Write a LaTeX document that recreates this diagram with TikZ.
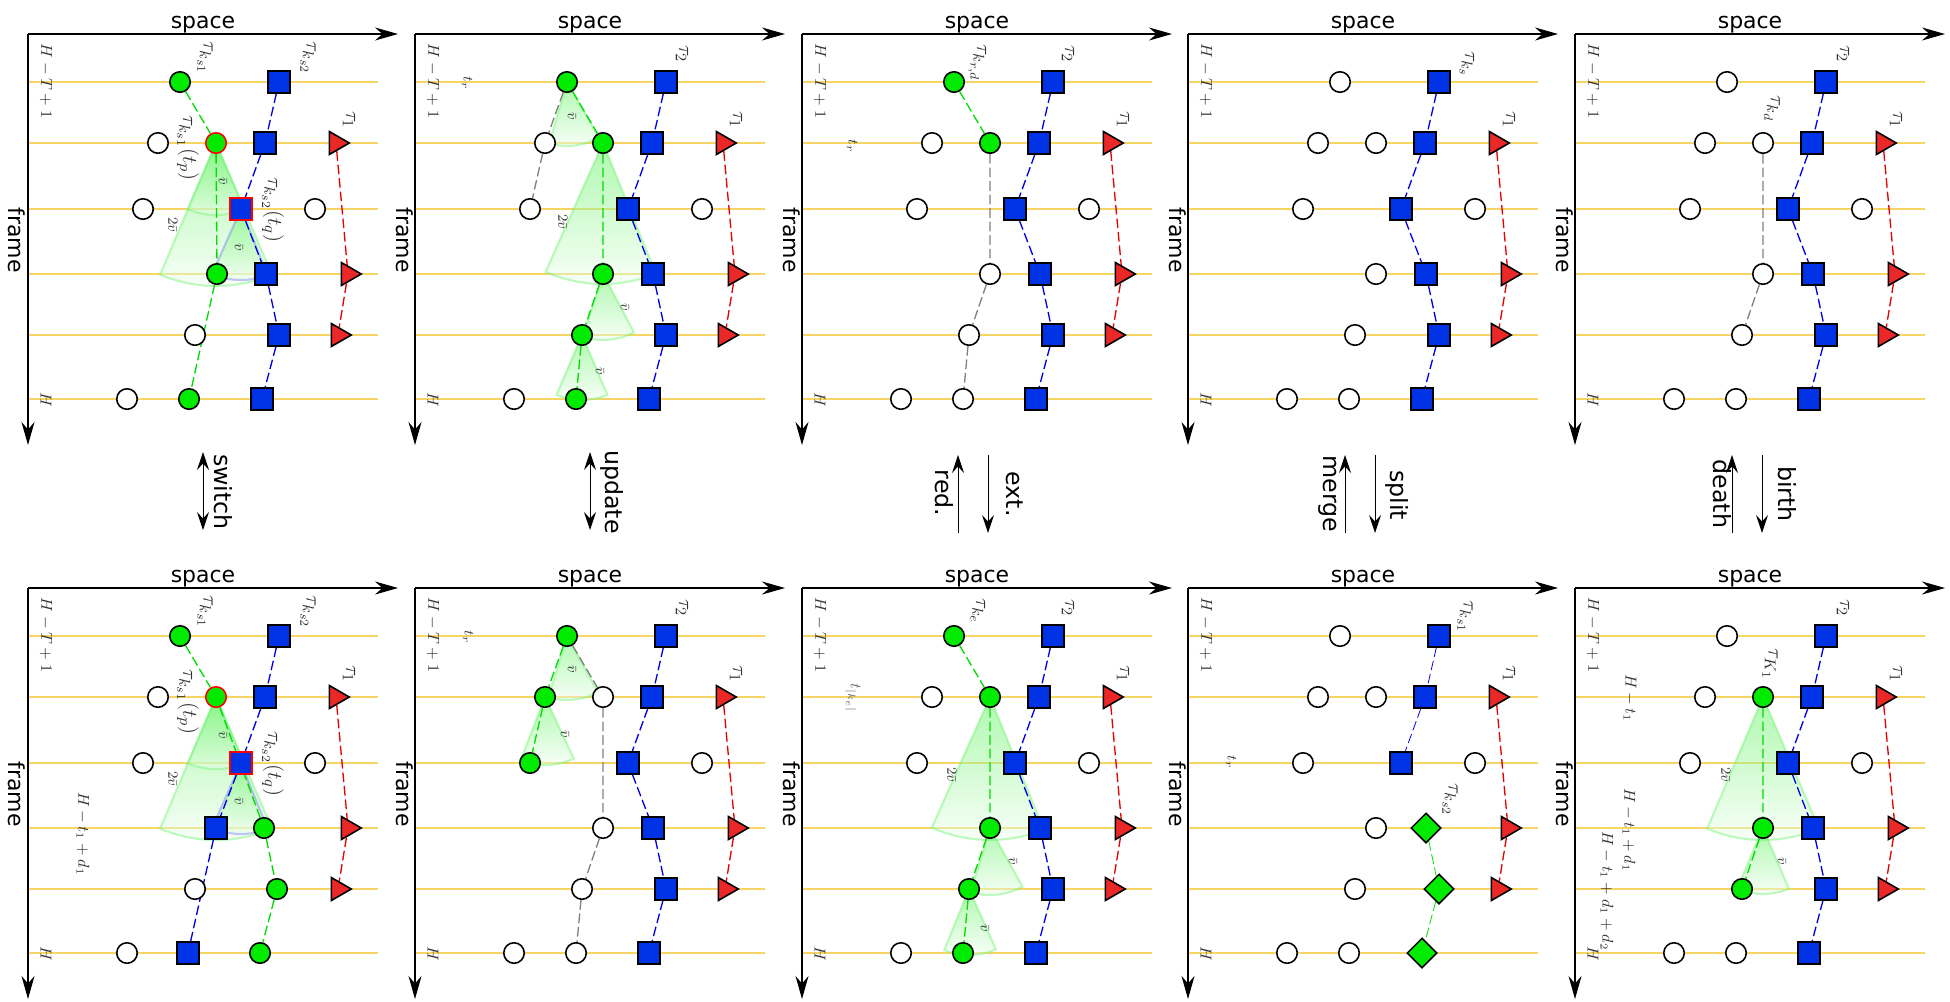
\documentclass[tikz,border=0pt]{standalone}
\usepackage{fontspec}
\setsansfont{DejaVu Sans}
\usepackage{tikz}
\usetikzlibrary{arrows.meta, shapes.geometric, positioning}
\DeclareMathSizes{12}{12}{9}{7}
\pgfdeclarelayer{background}
\pgfsetlayers{background,main}
\definecolor{frameline}{RGB}{245,214,100}
\definecolor{objgreen}{RGB}{0,235,0}
\definecolor{objblue}{RGB}{0,51,230}
\definecolor{objred}{RGB}{235,40,40}
\definecolor{trkgreen}{RGB}{0,220,0}
\definecolor{trkblue}{RGB}{0,0,225}
\definecolor{trkred}{RGB}{230,0,0}
\definecolor{trkgray}{RGB}{128,128,128}

\tikzset{
  axis/.style={line width=0.6pt, -{Stealth[length=4.6mm, width=2.6mm, inset=1.5mm]}},
  oparrow/.style={line width=0.5pt},
  axlbl/.style={font=\sffamily\fontsize{12.5}{15}\selectfont, inner sep=0pt},
  oplbl/.style={font=\sffamily\fontsize{13.5}{16}\selectfont, inner sep=0pt, rotate=-90},
  lbl/.style={font=\fontsize{8}{10}\selectfont, text=black!80, inner sep=0pt, rotate=-90},
  hlbl/.style={lbl, font=\fontsize{9}{11}\selectfont},
  tlbl/.style={lbl, font=\fontsize{12}{14}\selectfont},
  frm/.style={draw=frameline, line width=0.65pt},
  obj/.style={draw=black, line width=0.9pt, inner sep=0pt},
  wht/.style={obj, circle, fill=white, minimum size=4.1mm},
  grn/.style={obj, circle, fill=objgreen, minimum size=4.1mm},
  blu/.style={obj, rectangle, fill=objblue, minimum size=4.3mm},
  tri/.style={obj, regular polygon, regular polygon sides=3, shape border rotate=-90, fill=objred, minimum size=5.3mm},
  dia/.style={obj, diamond, fill=objgreen, minimum size=6mm},
  hot/.style={draw=red},
  trk/.style={line width=0.75pt, dash pattern=on 5.5pt off 2.2pt},
  cone/.style={top color=objgreen!70, bottom color=objgreen!5, fill opacity=0.45, draw=objgreen!55, draw opacity=0.45, line width=1.2pt},
  bluecone/.style={cone, draw=blue!50},
}

% axes, frame lines and the objects every panel has
\newcommand{\panelbase}[1]{%
  \coordinate (#1o) at (0,0);
  \coordinate (#1sx) at (370,0);
  \coordinate (#1fy) at (0,411);
  \draw[axis] (#1o) -- (#1sx);
  \draw[axis] (#1o) -- (#1fy);
  \node[axlbl, anchor=base] (#1space) at (175,-6) {space};
  \node[axlbl, anchor=base, rotate=-90] (#1frame) at (-19,206) {frame};
  \begin{pgfonlayer}{background}
    \foreach \fy in {48,109,175,240,301,365} { \draw[frm] (0,\fy) -- (350,\fy); }
  \end{pgfonlayer}
  \node[hlbl] (#1hmt) at (18,47) {$H-T+1$};
  \node[hlbl] (#1h) at (18,366) {$H$};
  \node[tlbl] (#1tau1) at (321,86) {$\tau_1$};
  \node[wht] (#1wr) at (287,175) {};
  \node[wht] (#1wl) at (99,365) {};
  \node[tri] (#1t1) at (308,109) {};
  \node[tri] (#1t3) at (320,240) {};
  \node[tri] (#1t4) at (310,301) {};
  \begin{pgfonlayer}{background}
    \draw[trk, trkred] (#1t1) -- (#1t3) -- (#1t4);
  \end{pgfonlayer}
}

% gate of speed vbar below an object
\newcommand{\vcone}[4][cone]{%
  \begin{pgfonlayer}{background}
    \draw[#1] (#2.center) -- ++({#3-23}:#4) arc[start angle={#3-23}, end angle={#3+23}, radius=#4] -- cycle;
  \end{pgfonlayer}}

\begin{document}
\begin{tikzpicture}[x=0.2mm, y=-0.2mm, >={Stealth[length=3.6mm, width=2.4mm, inset=1.3mm]}]
  \useasboundingbox (0,0) rectangle (1950,1001);

  % switch, before
  \begin{scope}[shift={(28,34)}]
    \panelbase{A}
    \node[grn] (Ag0) at (152,48) {};
    \node[blu] (Ab0) at (251,48) {};
    \node[wht] (Aw1) at (130,109) {};
    \node[grn, hot] (Ag1) at (188,109) {};
    \node[blu] (Ab1) at (237,109) {};
    \node[wht] (Aw2) at (115,175) {};
    \node[blu, hot] (Ab2) at (213,175) {};
    \node[grn] (Ag3) at (189,240) {};
    \node[blu] (Ab3) at (238,240) {};
    \node[wht] (Aw4) at (167,301) {};
    \node[blu] (Ab4) at (251,301) {};
    \node[grn] (Ag5) at (161,365) {};
    \node[blu] (Ab5) at (234,365) {};
    \vcone{Ag1}{90}{143}
    \vcone{Ag1}{90}{72}
    \vcone[bluecone]{Ab2}{91}{71}
    \begin{pgfonlayer}{background}
      \draw[trk, trkgreen] (Ag0) -- (Ag1) -- (Ag3) -- (Ag5);
      \draw[trk, trkblue] (Ab0) -- (Ab1) -- (Ab2) -- (Ab3) -- (Ab4) -- (Ab5);
    \end{pgfonlayer}
    \node[tlbl] (Ala) at (177,24) {$\tau_{k_{s1}}$};
    \node[tlbl] (Alb) at (280,24) {$\tau_{k_{s2}}$};
    \node[tlbl] (Alp) at (160,114) {$\tau_{k_{s1}}(t_p)$};
    \node[tlbl] (Alq) at (245,176) {$\tau_{k_{s2}}(t_q)$};
    \node[lbl] (Av1) at (195,147) {$\bar{v}$};
    \node[lbl] (Av2) at (145,191) {$2\bar{v}$};
    \node[lbl] (Av3) at (211,213) {$\bar{v}$};
  \end{scope}

  % switch, after
  \begin{scope}[shift={(28,588)}]
    \panelbase{a}
    \node[grn] (ag0) at (152,48) {};
    \node[blu] (ab0) at (251,48) {};
    \node[wht] (aw1) at (130,109) {};
    \node[grn, hot] (ag1) at (188,109) {};
    \node[blu] (ab1) at (237,109) {};
    \node[wht] (aw2) at (115,175) {};
    \node[blu, hot] (ab2) at (213,175) {};
    \node[blu] (ab3) at (188,240) {};
    \node[grn] (ag3) at (236,240) {};
    \node[wht] (aw4) at (167,301) {};
    \node[grn] (ag4) at (249,301) {};
    \node[blu] (ab5) at (160,365) {};
    \node[grn] (ag5) at (232,365) {};
    \vcone{ag1}{90}{143}
    \vcone{ag1}{90}{72}
    \vcone[bluecone]{ab2}{91}{71}
    \begin{pgfonlayer}{background}
      \draw[trk, trkgreen] (ag0) -- (ag1) -- (ag3) -- (ag4) -- (ag5);
      \draw[trk, trkblue] (ab0) -- (ab1) -- (ab2) -- (ab3) -- (ab5);
    \end{pgfonlayer}
    \node[tlbl] (ala) at (177,24) {$\tau_{k_{s1}}$};
    \node[tlbl] (alb) at (280,24) {$\tau_{k_{s2}}$};
    \node[tlbl] (alp) at (160,114) {$\tau_{k_{s1}}(t_p)$};
    \node[tlbl] (alq) at (245,176) {$\tau_{k_{s2}}(t_q)$};
    \node[lbl] (av1) at (195,147) {$\bar{v}$};
    \node[lbl] (av2) at (145,191) {$2\bar{v}$};
    \node[lbl] (av3) at (211,213) {$\bar{v}$};
    \node[hlbl] (ahd) at (55,246) {$H-t_1+d_1$};
  \end{scope}

  % update, before
  \begin{scope}[shift={(415,34)}]
    \panelbase{B}
    \node[grn] (Bg0) at (152,48) {};
    \node[blu] (Bb0) at (251,48) {};
    \node[wht] (Bw1) at (130,109) {};
    \node[grn] (Bg1) at (188,109) {};
    \node[blu] (Bb1) at (237,109) {};
    \node[wht] (Bw2) at (115,175) {};
    \node[blu] (Bb2) at (213,175) {};
    \node[grn] (Bg3) at (188,240) {};
    \node[blu] (Bb3) at (238,240) {};
    \node[grn] (Bg4) at (167,301) {};
    \node[blu] (Bb4) at (251,301) {};
    \node[grn] (Bg5) at (161,365) {};
    \node[blu] (Bb5) at (234,365) {};
    \vcone{Bg0}{83}{64}
    \vcone{Bg1}{91}{141}
    \vcone{Bg3}{85}{66}
    \vcone{Bg4}{90}{65}
    \begin{pgfonlayer}{background}
      \draw[trk, trkgreen] (Bg0) -- (Bg1) -- (Bg3) -- (Bg4) -- (Bg5);
      \draw[trk, trkgray] (Bg0) -- (Bw1) -- (Bw2);
      \draw[trk, trkblue] (Bb0) -- (Bb1) -- (Bb2) -- (Bb3) -- (Bb4) -- (Bb5);
    \end{pgfonlayer}
    \node[lbl] (Btr) at (52,49) {$t_r$};
    \node[tlbl] (Bl2) at (267,20) {$\tau_2$};
    \node[lbl] (Bv1) at (157,82) {$\bar{v}$};
    \node[lbl] (Bv2) at (148,188) {$2\bar{v}$};
    \node[lbl] (Bv3) at (210,273) {$\bar{v}$};
    \node[lbl] (Bv4) at (185,337) {$\bar{v}$};
  \end{scope}

  % update, after
  \begin{scope}[shift={(415,588)}]
    \panelbase{b}
    \node[grn] (bg0) at (152,48) {};
    \node[blu] (bb0) at (251,48) {};
    \node[grn] (bg1) at (130,109) {};
    \node[wht] (bw1) at (188,109) {};
    \node[blu] (bb1) at (237,109) {};
    \node[grn] (bg2) at (115,175) {};
    \node[blu] (bb2) at (213,175) {};
    \node[wht] (bw3) at (188,240) {};
    \node[blu] (bb3) at (238,240) {};
    \node[wht] (bw4) at (167,301) {};
    \node[blu] (bb4) at (251,301) {};
    \node[wht] (bw5) at (161,365) {};
    \node[blu] (bb5) at (234,365) {};
    \vcone{bg0}{84}{64}
    \vcone{bg1}{88}{68}
    \begin{pgfonlayer}{background}
      \draw[trk, trkgreen] (bg0) -- (bg1) -- (bg2);
      \draw[trk, trkgray] (bg0) -- (bw1) -- (bw3) -- (bw4) -- (bw5);
      \draw[trk, trkblue] (bb0) -- (bb1) -- (bb2) -- (bb3) -- (bb4) -- (bb5);
    \end{pgfonlayer}
    \node[lbl] (btr) at (53,49) {$t_r$};
    \node[tlbl] (bl2) at (267,20) {$\tau_2$};
    \node[lbl] (bv1) at (157,81) {$\bar{v}$};
    \node[lbl] (bv2) at (150,146) {$\bar{v}$};
  \end{scope}

  % reduced
  \begin{scope}[shift={(802,34)}]
    \panelbase{C}
    \node[grn] (Cg0) at (152,48) {};
    \node[blu] (Cb0) at (251,48) {};
    \node[wht] (Cw1) at (130,109) {};
    \node[grn] (Cg1) at (188,109) {};
    \node[blu] (Cb1) at (237,109) {};
    \node[wht] (Cw2) at (115,175) {};
    \node[blu] (Cb2) at (213,175) {};
    \node[wht] (Cw3) at (188,240) {};
    \node[blu] (Cb3) at (238,240) {};
    \node[wht] (Cw4) at (167,301) {};
    \node[blu] (Cb4) at (251,301) {};
    \node[wht] (Cw5) at (161,365) {};
    \node[blu] (Cb5) at (234,365) {};
    \begin{pgfonlayer}{background}
      \draw[trk, trkgreen] (Cg0) -- (Cg1);
      \draw[trk, trkgray] (Cg1) -- (Cw3) -- (Cw4) -- (Cw5);
      \draw[trk, trkblue] (Cb0) -- (Cb1) -- (Cb2) -- (Cb3) -- (Cb4) -- (Cb5);
    \end{pgfonlayer}
    \node[tlbl] (Crd) at (175,29) {$\tau_{k_{r,d}}$};
    \node[tlbl] (Cl2) at (266,20) {$\tau_2$};
    \node[lbl] (Ctr) at (50,112) {$t_r$};
  \end{scope}

  % extended
  \begin{scope}[shift={(802,588)}]
    \panelbase{c}
    \node[grn] (cg0) at (152,48) {};
    \node[blu] (cb0) at (251,48) {};
    \node[wht] (cw1) at (130,109) {};
    \node[grn] (cg1) at (188,109) {};
    \node[blu] (cb1) at (237,109) {};
    \node[wht] (cw2) at (115,175) {};
    \node[blu] (cb2) at (213,175) {};
    \node[grn] (cg3) at (188,240) {};
    \node[blu] (cb3) at (238,240) {};
    \node[grn] (cg4) at (167,301) {};
    \node[blu] (cb4) at (251,301) {};
    \node[grn] (cg5) at (161,365) {};
    \node[blu] (cb5) at (234,365) {};
    \vcone{cg1}{91}{143}
    \vcone{cg3}{84}{67}
    \vcone{cg4}{89}{66}
    \begin{pgfonlayer}{background}
      \draw[trk, trkgreen] (cg0) -- (cg1) -- (cg3) -- (cg4) -- (cg5);
      \draw[trk, trkblue] (cb0) -- (cb1) -- (cb2) -- (cb3) -- (cb4) -- (cb5);
    \end{pgfonlayer}
    \node[tlbl] (cke) at (176,23) {$\tau_{k_e}$};
    \node[tlbl] (cl2) at (266,20) {$\tau_2$};
    \node[hlbl, text=black!60] (ctk) at (51,110) {$t_{|k_e|}$};
    \node[lbl] (cv1) at (150,187) {$2\bar{v}$};
    \node[lbl] (cv2) at (211,273) {$\bar{v}$};
    \node[lbl] (cv3) at (183,340) {$\bar{v}$};
  \end{scope}

  % merged
  \begin{scope}[shift={(1188,34)}]
    \panelbase{D}
    \node[wht] (Dw0) at (152,48) {};
    \node[blu] (Db0) at (251,48) {};
    \node[wht] (Dwa) at (130,109) {};
    \node[wht] (Dw1) at (188,109) {};
    \node[blu] (Db1) at (237,109) {};
    \node[wht] (Dw2) at (115,175) {};
    \node[blu] (Db2) at (213,175) {};
    \node[wht] (Dw3) at (188,240) {};
    \node[blu] (Db3) at (238,240) {};
    \node[wht] (Dw4) at (167,301) {};
    \node[blu] (Db4) at (251,301) {};
    \node[wht] (Dw5) at (161,365) {};
    \node[blu] (Db5) at (234,365) {};
    \begin{pgfonlayer}{background}
      \draw[trk, trkblue] (Db0) -- (Db1) -- (Db2) -- (Db3) -- (Db4) -- (Db5);
    \end{pgfonlayer}
    \node[tlbl] (Dks) at (279,30) {$\tau_{k_s}$};
  \end{scope}

  % split
  \begin{scope}[shift={(1188,588)}]
    \panelbase{d}
    \node[wht] (dw0) at (152,48) {};
    \node[blu] (db0) at (251,48) {};
    \node[wht] (dwa) at (130,109) {};
    \node[wht] (dw1) at (188,109) {};
    \node[blu] (db1) at (237,109) {};
    \node[wht] (dw2) at (115,175) {};
    \node[blu] (db2) at (213,175) {};
    \node[wht] (dw3) at (188,240) {};
    \node[dia] (dd3) at (238,240) {};
    \node[wht] (dw4) at (167,301) {};
    \node[dia] (dd4) at (251,301) {};
    \node[wht] (dw5) at (161,365) {};
    \node[dia] (dd5) at (234,365) {};
    \begin{pgfonlayer}{background}
      \draw[trk, trkblue, line width=0.45pt] (db0) -- (db1) -- (db2);
      \draw[trk, trkgreen, line width=0.45pt] (dd3) -- (dd4) -- (dd5);
    \end{pgfonlayer}
    \node[tlbl] (dk1) at (277,29) {$\tau_{k_{s1}}$};
    \node[tlbl] (dk2) at (262,212) {$\tau_{k_{s2}}$};
    \node[lbl] (dtr) at (43,174) {$t_r$};
  \end{scope}

  % before birth
  \begin{scope}[shift={(1575,34)}]
    \panelbase{E}
    \node[wht] (Ew0) at (152,48) {};
    \node[blu] (Eb0) at (251,48) {};
    \node[wht] (Ewa) at (130,109) {};
    \node[wht] (Ew1) at (188,109) {};
    \node[blu] (Eb1) at (237,109) {};
    \node[wht] (Ew2) at (115,175) {};
    \node[blu] (Eb2) at (213,175) {};
    \node[wht] (Ew3) at (188,240) {};
    \node[blu] (Eb3) at (238,240) {};
    \node[wht] (Ew4) at (167,301) {};
    \node[blu] (Eb4) at (251,301) {};
    \node[wht] (Ew5) at (161,365) {};
    \node[blu] (Eb5) at (234,365) {};
    \begin{pgfonlayer}{background}
      \draw[trk, trkgray] (Ew1) -- (Ew3) -- (Ew4);
      \draw[trk, trkblue] (Eb0) -- (Eb1) -- (Eb2) -- (Eb3) -- (Eb4) -- (Eb5);
    \end{pgfonlayer}
    \node[tlbl] (El2) at (268,20) {$\tau_2$};
    \node[tlbl] (Ekd) at (197,75) {$\tau_{k_d}$};
  \end{scope}

  % after birth
  \begin{scope}[shift={(1575,588)}]
    \panelbase{e}
    \node[wht] (ew0) at (152,48) {};
    \node[blu] (eb0) at (251,48) {};
    \node[wht] (ewa) at (130,109) {};
    \node[grn] (eg1) at (188,109) {};
    \node[blu] (eb1) at (237,109) {};
    \node[wht] (ew2) at (115,175) {};
    \node[blu] (eb2) at (213,175) {};
    \node[grn] (eg3) at (188,240) {};
    \node[blu] (eb3) at (238,240) {};
    \node[grn] (eg4) at (167,301) {};
    \node[blu] (eb4) at (251,301) {};
    \node[wht] (ew5) at (161,365) {};
    \node[blu] (eb5) at (234,365) {};
    \vcone{eg1}{90}{143}
    \vcone{eg3}{90}{66}
    \begin{pgfonlayer}{background}
      \draw[trk, trkgreen] (eg1) -- (eg3) -- (eg4);
      \draw[trk, trkblue] (eb0) -- (eb1) -- (eb2) -- (eb3) -- (eb4) -- (eb5);
    \end{pgfonlayer}
    \node[tlbl] (el2) at (268,20) {$\tau_2$};
    \node[tlbl] (eK1) at (195,76) {$\tau_{K_1}$};
    \node[hlbl] (eh1) at (55,110) {$H-t_1$};
    \node[hlbl] (eh2) at (54,242) {$H-t_1+d_1$};
    \node[hlbl] (eh3) at (32,303) {$H-t_1+d_1+d_2$};
    \node[lbl] (ev1) at (151,187) {$2\bar{v}$};
    \node[lbl] (ev2) at (207,273) {$\bar{v}$};
  \end{scope}

  % operations between the rows
  \coordinate (swt) at (203,452);
  \coordinate (swb) at (203,530);
  \draw[oparrow, <->] (swt) -- (swb);
  \node[oplbl] (swlbl) at (223,492) {switch};
  \coordinate (upt) at (590,452);
  \coordinate (upb) at (590,530);
  \draw[oparrow, <->] (upt) -- (upb);
  \node[oplbl] (uplbl) at (612,492) {update};
  \coordinate (rdb) at (958,533);
  \coordinate (rdt) at (958,455);
  \draw[oparrow, ->] (rdb) -- (rdt);
  \node[oplbl] (rdlbl) at (944,493) {red.};
  \coordinate (ext) at (988,455);
  \coordinate (exb) at (988,533);
  \draw[oparrow, ->] (ext) -- (exb);
  \node[oplbl] (exlbl) at (1015,494) {ext.};
  \coordinate (mgb) at (1345,533);
  \coordinate (mgt) at (1345,455);
  \draw[oparrow, ->] (mgb) -- (mgt);
  \node[oplbl] (mglbl) at (1328,494) {merge};
  \coordinate (spt) at (1375,455);
  \coordinate (spb) at (1375,533);
  \draw[oparrow, ->] (spt) -- (spb);
  \node[oplbl] (splbl) at (1397,495) {split};
  \coordinate (dtb) at (1732,533);
  \coordinate (dtt) at (1732,455);
  \draw[oparrow, ->] (dtb) -- (dtt);
  \node[oplbl] (dtlbl) at (1722,494) {death};
  \coordinate (brt) at (1762,455);
  \coordinate (brb) at (1762,533);
  \draw[oparrow, ->] (brt) -- (brb);
  \node[oplbl] (brlbl) at (1787,494) {birth};
\end{tikzpicture}
\end{document}
